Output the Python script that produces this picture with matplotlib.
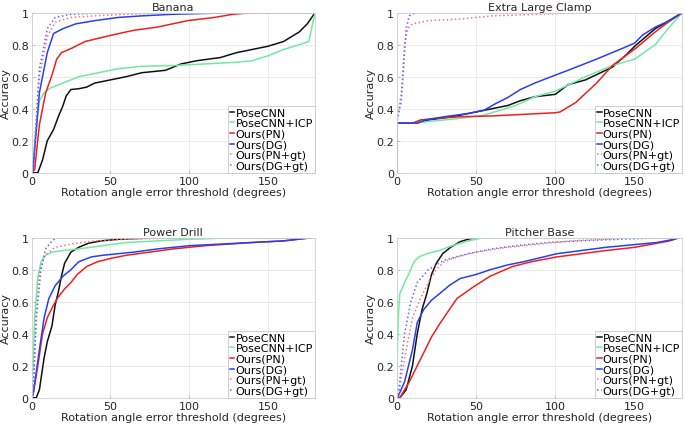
import numpy as np
import matplotlib
matplotlib.use("Agg")
import matplotlib.pyplot as plt

# -------------------------
# Data
# -------------------------
methods = ["PoseCNN", "PoseCNN+ICP", "Ours(PN)", "Ours(DG)", "Ours(PN+gt)", "Ours(DG+gt)"]
titles = ["Banana", "Extra Large Clamp", "Power Drill", "Pitcher Base"]
x_ticks = [0, 50, 100, 150]
y_ticks = [0, 0.2, 0.4, 0.6, 0.8, 1]
y_tick_labels = ["0", "0.2", "0.4", "0.6", "0.8", "1"]

# Banana
ban_pcnn_x = [0, 4, 7, 10, 14, 17, 20, 22, 25, 30, 35, 40, 50, 60, 70, 85, 95, 105, 120, 130, 140, 150, 160, 165, 170, 175, 180]
ban_pcnn_y = [0, 0, 0.08, 0.2, 0.27, 0.35, 0.42, 0.48, 0.52, 0.525, 0.535, 0.56, 0.58, 0.6, 0.625, 0.64, 0.68, 0.7, 0.72, 0.75, 0.77, 0.79, 0.82, 0.85, 0.88, 0.93, 1.0]
ban_icp_x = [0, 1, 3, 5, 8, 12, 20, 30, 45, 55, 70, 90, 110, 130, 140, 150, 160, 170, 176, 180]
ban_icp_y = [0, 0.05, 0.3, 0.45, 0.5, 0.53, 0.56, 0.6, 0.63, 0.65, 0.665, 0.67, 0.68, 0.69, 0.7, 0.73, 0.77, 0.8, 0.82, 1.0]
ban_pn_x = [0, 2, 5, 9, 13, 16, 19, 26, 34, 51, 65, 80, 99, 116, 128, 140, 180]
ban_pn_y = [0, 0.02, 0.3, 0.5, 0.61, 0.71, 0.75, 0.78, 0.82, 0.86, 0.89, 0.91, 0.95, 0.97, 0.99, 1.0, 1.0]
ban_dg_x = [0, 1, 5, 10, 14, 20, 28, 40, 55, 70, 90, 130, 180]
ban_dg_y = [0, 0.02, 0.5, 0.75, 0.87, 0.9, 0.93, 0.95, 0.97, 0.98, 0.99, 1.0, 1.0]
ban_pngt_x = [0, 1, 5, 10, 15, 25, 40, 60, 100, 170]
ban_pngt_y = [0, 0.02, 0.6, 0.85, 0.94, 0.97, 0.98, 0.99, 1.0, 1.0]
ban_dggt_x = [0, 1, 5, 10, 15, 25, 50, 170]
ban_dggt_y = [0, 0.02, 0.65, 0.9, 0.97, 0.99, 1.0, 1.0]

# Extra Large Clamp
clp_pcnn_x = [0, 0, 12, 20, 35, 50, 60, 70, 78, 87, 100, 108, 119, 136, 145, 150, 163, 170, 175, 180]
clp_pcnn_y = [0, 0.31, 0.31, 0.33, 0.35, 0.38, 0.4, 0.42, 0.45, 0.475, 0.49, 0.55, 0.58, 0.66, 0.74, 0.79, 0.9, 0.94, 0.97, 1.0]
clp_icp_x = [0, 0, 12, 20, 40, 55, 65, 75, 87, 100, 119, 136, 150, 163, 171, 180]
clp_icp_y = [0, 0.31, 0.31, 0.32, 0.34, 0.36, 0.39, 0.42, 0.475, 0.51, 0.6, 0.67, 0.71, 0.8, 0.9, 1.0]
clp_pn_x = [0, 0, 10, 15, 25, 40, 60, 80, 100, 103, 113, 126, 136, 151, 163, 171, 180]
clp_pn_y = [0, 0.31, 0.31, 0.33, 0.34, 0.35, 0.355, 0.365, 0.375, 0.38, 0.44, 0.56, 0.67, 0.78, 0.88, 0.94, 1.0]
clp_dg_x = [0, 0, 13, 18, 30, 45, 55, 62, 70, 78, 87, 100, 108, 126, 143, 150, 155, 163, 172, 180]
clp_dg_y = [0, 0.31, 0.31, 0.33, 0.35, 0.37, 0.39, 0.43, 0.47, 0.52, 0.56, 0.61, 0.64, 0.71, 0.78, 0.81, 0.86, 0.91, 0.95, 1.0]
clp_pngt_x = [0, 0, 3, 5, 7, 10, 20, 40, 60, 90, 120, 135]
clp_pngt_y = [0, 0.31, 0.5, 0.8, 0.9, 0.93, 0.95, 0.96, 0.98, 0.99, 1.0, 1.0]
clp_dggt_x = [0, 0, 3, 5, 6, 8, 12, 110]
clp_dggt_y = [0, 0.31, 0.45, 0.75, 0.9, 0.98, 1.0, 1.0]

# Power Drill
drl_pcnn_x = [0, 3, 5, 8, 10, 13, 15, 17, 19, 21, 25, 30, 36, 44, 55, 80, 178]
drl_pcnn_y = [0, 0, 0.05, 0.25, 0.35, 0.45, 0.58, 0.66, 0.76, 0.84, 0.91, 0.94, 0.965, 0.98, 0.99, 1.0, 1.0]
drl_icp_x = [0, 1, 2, 4, 6, 9, 13, 20, 30, 45, 60, 80, 100, 130, 178]
drl_icp_y = [0, 0.2, 0.5, 0.75, 0.85, 0.89, 0.91, 0.92, 0.93, 0.95, 0.97, 0.98, 0.99, 1.0, 1.0]
drl_pn_x = [0, 1, 4, 7, 10, 14, 17, 21, 25, 29, 35, 42, 50, 60, 75, 90, 110, 140, 160, 178]
drl_pn_y = [0, 0.02, 0.2, 0.4, 0.5, 0.58, 0.63, 0.68, 0.72, 0.77, 0.82, 0.85, 0.87, 0.89, 0.91, 0.93, 0.95, 0.97, 0.98, 1.0]
drl_dg_x = [0, 1, 5, 8, 11, 15, 20, 25, 30, 38, 45, 55, 65, 80, 100, 120, 140, 160, 178]
drl_dg_y = [0, 0.02, 0.3, 0.5, 0.62, 0.7, 0.76, 0.8, 0.85, 0.88, 0.89, 0.9, 0.91, 0.93, 0.95, 0.96, 0.97, 0.98, 1.0]
drl_pngt_x = [0, 1, 3, 5, 8, 11, 15, 25, 40, 60, 100, 178]
drl_pngt_y = [0, 0.02, 0.5, 0.78, 0.88, 0.91, 0.94, 0.96, 0.98, 0.99, 1.0, 1.0]
drl_dggt_x = [0, 1, 3, 6, 9, 13, 16, 178]
drl_dggt_y = [0, 0.02, 0.5, 0.8, 0.93, 0.98, 1.0, 1.0]

# Pitcher Base
pit_pcnn_x = [0, 2, 6, 10, 13, 16, 19, 22, 25, 29, 34, 40, 45, 50, 55]
pit_pcnn_y = [0, 0, 0.05, 0.2, 0.4, 0.55, 0.65, 0.77, 0.84, 0.9, 0.94, 0.975, 0.99, 1.0, 1.0]
pit_icp_x = [0, 0.5, 1, 2, 5, 8, 11, 14, 19, 27, 35, 45, 55, 175]
pit_icp_y = [0, 0.3, 0.5, 0.65, 0.72, 0.78, 0.85, 0.88, 0.9, 0.92, 0.95, 0.98, 1.0, 1.0]
pit_pn_x = [0, 2, 8, 13, 18, 22, 27, 38, 48, 59, 73, 85, 101, 132, 150, 164, 172, 178]
pit_pn_y = [0, 0, 0.1, 0.2, 0.3, 0.38, 0.46, 0.62, 0.69, 0.76, 0.82, 0.85, 0.88, 0.92, 0.94, 0.965, 0.98, 1.0]
pit_dg_x = [0, 1, 5, 10, 13, 17, 22, 27, 33, 40, 50, 59, 70, 80, 101, 132, 164, 175, 178]
pit_dg_y = [0, 0.01, 0.1, 0.3, 0.47, 0.55, 0.61, 0.65, 0.7, 0.745, 0.77, 0.8, 0.83, 0.85, 0.9, 0.94, 0.97, 0.99, 1.0]
pit_pngt_x = [0, 1, 6, 10, 15, 20, 25, 30, 38, 50, 70, 90, 110, 130, 150, 178]
pit_pngt_y = [0, 0.01, 0.3, 0.5, 0.62, 0.72, 0.8, 0.85, 0.88, 0.91, 0.94, 0.96, 0.98, 0.99, 1.0, 1.0]
pit_dggt_x = [0, 1, 5, 9, 13, 20, 30, 45, 60, 75, 95, 115, 140, 170, 178]
pit_dggt_y = [0, 0.01, 0.4, 0.6, 0.72, 0.8, 0.86, 0.9, 0.93, 0.95, 0.97, 0.98, 0.99, 1.0, 1.0]

panel_curves = [
    [(ban_pcnn_x, ban_pcnn_y), (ban_icp_x, ban_icp_y), (ban_pn_x, ban_pn_y),
     (ban_dg_x, ban_dg_y), (ban_pngt_x, ban_pngt_y), (ban_dggt_x, ban_dggt_y)],
    [(clp_pcnn_x, clp_pcnn_y), (clp_icp_x, clp_icp_y), (clp_pn_x, clp_pn_y),
     (clp_dg_x, clp_dg_y), (clp_pngt_x, clp_pngt_y), (clp_dggt_x, clp_dggt_y)],
    [(drl_pcnn_x, drl_pcnn_y), (drl_icp_x, drl_icp_y), (drl_pn_x, drl_pn_y),
     (drl_dg_x, drl_dg_y), (drl_pngt_x, drl_pngt_y), (drl_dggt_x, drl_dggt_y)],
    [(pit_pcnn_x, pit_pcnn_y), (pit_icp_x, pit_icp_y), (pit_pn_x, pit_pn_y),
     (pit_dg_x, pit_dg_y), (pit_pngt_x, pit_pngt_y), (pit_dggt_x, pit_dggt_y)],
]

# -------------------------
# Styles
# -------------------------
colors = ["#111111", "#72e8a4", "#ee2020", "#2a3ff0", "#f07a7a", "#5a6ef0"]
styles = ["-", "-", "-", "-", ":", ":"]

# axes positions (left, bottom, width, height) in figure fractions
positions = [
    (0.046, 0.593, 0.414, 0.375),
    (0.579, 0.593, 0.417, 0.375),
    (0.046, 0.066, 0.414, 0.375),
    (0.579, 0.066, 0.417, 0.375),
]

plt.rcParams["font.family"] = "DejaVu Sans"
fig = plt.figure(figsize=(6.85, 4.27), dpi=100)

for i in range(4):
    ax = fig.add_axes(positions[i])
    for j, (xs, ys) in enumerate(panel_curves[i]):
        ax.plot(xs, ys, color=colors[j], linestyle=styles[j], linewidth=1.1,
                label=methods[j])
    ax.set_xlim(0, 180)
    ax.set_ylim(0, 1)
    ax.set_xticks(x_ticks)
    ax.set_yticks(y_ticks)
    ax.set_yticklabels(y_tick_labels)
    ax.grid(True, color="#e8e8e8", linewidth=0.6)
    ax.set_axisbelow(True)
    for s in ax.spines.values():
        s.set_color("#d0d0d0")
        s.set_linewidth(0.6)
    ax.tick_params(direction="in", length=2, color="#c0c0c0", labelsize=8,
                   pad=2, labelcolor="#262626")
    ax.set_title(titles[i], fontsize=8, pad=2, color="#262626")
    ax.set_xlabel("Rotation angle error threshold (degrees)", fontsize=8,
                  labelpad=1, color="#262626")
    ax.set_ylabel("Accuracy", fontsize=8, labelpad=0, color="#262626")
    leg = ax.legend(loc="lower right", fontsize=8, borderaxespad=0,
                    handlelength=0.4, handletextpad=0.1, labelspacing=0.05,
                    borderpad=0.2, fancybox=False, framealpha=1)
    leg.get_frame().set_edgecolor("#c8c8c8")
    leg.get_frame().set_linewidth(0.6)

plt.savefig("out.png", dpi=100)
